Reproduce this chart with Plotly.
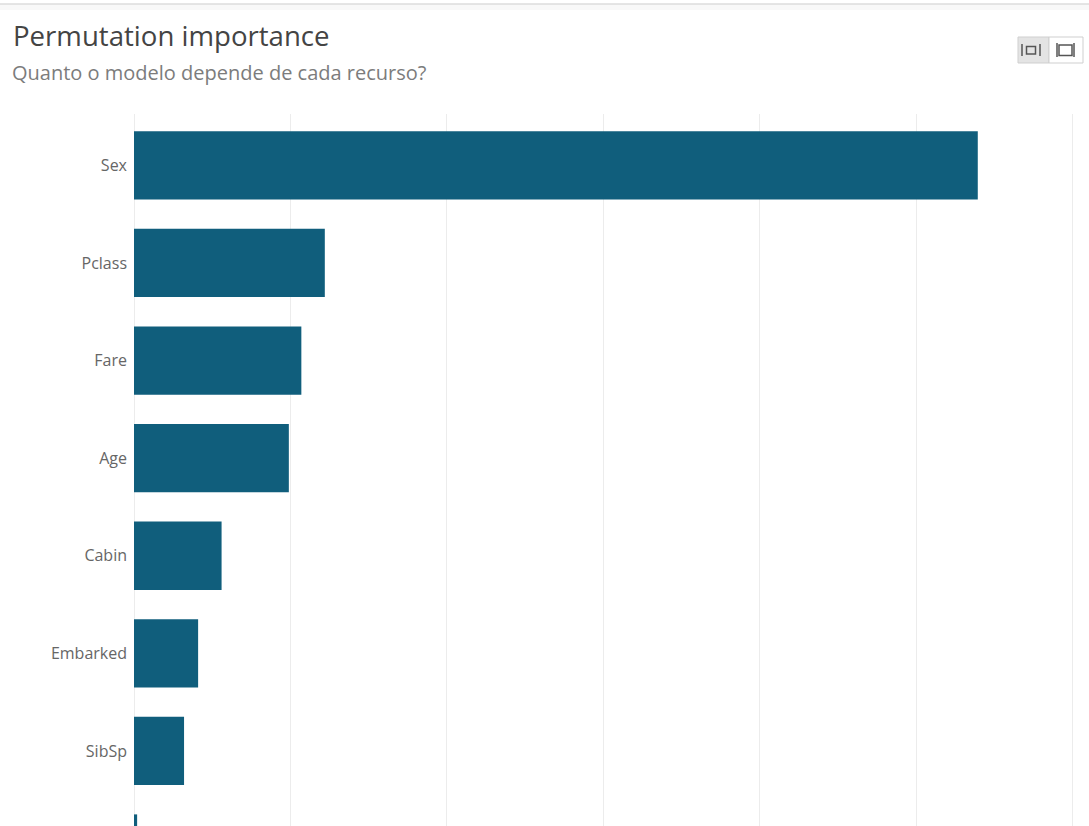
import plotly.graph_objects as go

# Permutation importance per feature (mean drop in score when the feature is shuffled)
features = ["Sex", "Pclass", "Fare", "Age", "Cabin", "Embarked", "SibSp", "Parch"]
importance = [0.1079, 0.0244, 0.0214, 0.0198, 0.0112, 0.0082, 0.0064, 0.0004]

title_text = "Permutation importance"
subtitle_text = "Quanto o modelo depende de cada recurso?"

W, H = 1089, 826
ML, MR, MT, MB = 134, 13, 114, 0
PW, PH = W - ML - MR, H - MT - MB

BAR_COLOR = "#105e7c"
GRID = "#ececec"
FONT = "Open Sans, Noto Sans, sans-serif"


def px_x(px):
    return (px - ML) / PW


def px_y(py):
    return (H - MB - py) / PH


fig = go.Figure(
    go.Bar(
        x=importance,
        y=features,
        orientation="h",
        marker=dict(color=BAR_COLOR, line=dict(width=0)),
        hoverinfo="x+y",
    )
)

shapes = []
# thin card border across the top
shapes.append(dict(type="rect", xref="paper", yref="paper",
                   x0=px_x(0), x1=px_x(W), y0=px_y(10), y1=px_y(4),
                   fillcolor="#f8f8f8", line=dict(width=0), layer="below"))
shapes.append(dict(type="line", xref="paper", yref="paper",
                   x0=px_x(0), x1=px_x(W), y0=px_y(4), y1=px_y(4),
                   line=dict(color="#dcdcdc", width=1.5)))

# view toggle button group (top right)
shapes.append(dict(type="rect", xref="paper", yref="paper",
                   x0=px_x(1018), x1=px_x(1049), y0=px_y(63), y1=px_y(37),
                   fillcolor="#e4e4e4", line=dict(color="#cfcfcf", width=1)))
shapes.append(dict(type="rect", xref="paper", yref="paper",
                   x0=px_x(1049), x1=px_x(1083), y0=px_y(63), y1=px_y(37),
                   fillcolor="#ffffff", line=dict(color="#cfcfcf", width=1)))
icon = dict(color="#555555", width=1.5)
# left icon: |□|
for xx in (1022, 1040):
    shapes.append(dict(type="line", xref="paper", yref="paper",
                       x0=px_x(xx), x1=px_x(xx), y0=px_y(56), y1=px_y(44), line=icon))
shapes.append(dict(type="rect", xref="paper", yref="paper",
                   x0=px_x(1026.5), x1=px_x(1035.5), y0=px_y(54), y1=px_y(46.5),
                   line=icon))
# right icon: |▭|
for xx in (1057, 1074):
    shapes.append(dict(type="line", xref="paper", yref="paper",
                       x0=px_x(xx), x1=px_x(xx), y0=px_y(57), y1=px_y(43), line=icon))
shapes.append(dict(type="rect", xref="paper", yref="paper",
                   x0=px_x(1059), x1=px_x(1072), y0=px_y(55.5), y1=px_y(45),
                   line=icon))

annotations = [
    dict(text=title_text, xref="paper", yref="paper", x=px_x(11), y=px_y(35),
         xanchor="left", yanchor="middle", showarrow=False,
         font=dict(family=FONT, size=27.6, color="#444444")),
    dict(text=subtitle_text, xref="paper", yref="paper", x=px_x(10), y=px_y(72),
         xanchor="left", yanchor="middle", showarrow=False,
         font=dict(family=FONT, size=20, color="#7c7c7c")),
]

fig.update_layout(
    width=W,
    height=H,
    margin=dict(l=ML, r=MR, t=MT, b=MB, pad=0),
    paper_bgcolor="white",
    plot_bgcolor="white",
    showlegend=False,
    bargap=0.30,
    shapes=shapes,
    annotations=annotations,
    font=dict(family=FONT, size=15, color="#666666"),
    xaxis=dict(
        range=[0, 0.02 * PW / 156.4],
        dtick=0.02,
        showgrid=True,
        gridcolor=GRID,
        gridwidth=1,
        zeroline=True,
        zerolinecolor=GRID,
        zerolinewidth=1,
        showticklabels=False,
        showline=False,
        fixedrange=True,
    ),
    yaxis=dict(
        type="category",
        categoryorder="array",
        categoryarray=features,
        range=[6.769, -0.526],
        showgrid=False,
        zeroline=False,
        showline=False,
        ticks="",
        ticklabelstandoff=6,
        tickfont=dict(family=FONT, size=16, color="#666666"),
        automargin=False,
        fixedrange=True,
    ),
)

fig.write_html("out.html", config={"displayModeBar": False})
